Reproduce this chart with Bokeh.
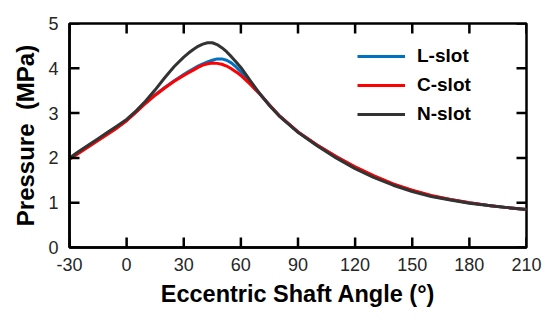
from bokeh.plotting import figure
from bokeh.models import Range1d, FixedTicker, Legend, LegendItem, PrintfTickFormatter
from bokeh.embed import file_html
from bokeh.resources import INLINE

angle = [-30, -25, -20, -15, -10, -5, 0, 5, 10, 15, 20, 25,
         30, 32.5, 35, 37.5, 40, 42.5, 45, 47.5, 50, 52.5, 55, 57.5, 60,
         65, 70, 75, 80, 90, 100, 110, 120, 130, 140, 150, 160, 170, 180, 190, 200, 210]
l_slot = [1.98, 2.12, 2.26, 2.40, 2.54, 2.68, 2.84, 3.03, 3.23, 3.41, 3.57, 3.72,
          3.86, 3.93, 3.99, 4.05, 4.10, 4.14, 4.18, 4.21, 4.21, 4.18, 4.12, 4.03, 3.92,
          3.67, 3.43, 3.18, 2.95, 2.58, 2.29, 2.03, 1.79, 1.59, 1.41, 1.27, 1.15, 1.07, 1.00, 0.94, 0.89, 0.85]
c_slot = [1.97, 2.11, 2.25, 2.39, 2.53, 2.67, 2.83, 3.02, 3.22, 3.40, 3.56, 3.71,
          3.84, 3.90, 3.96, 4.02, 4.07, 4.10, 4.12, 4.11, 4.09, 4.05, 3.99, 3.92, 3.84,
          3.64, 3.42, 3.18, 2.95, 2.58, 2.29, 2.03, 1.80, 1.60, 1.42, 1.28, 1.16, 1.07, 1.00, 0.94, 0.89, 0.85]
n_slot = [2.00, 2.15, 2.29, 2.43, 2.57, 2.71, 2.86, 3.05, 3.27, 3.52, 3.79, 4.04,
          4.25, 4.34, 4.42, 4.49, 4.54, 4.57, 4.57, 4.53, 4.46, 4.37, 4.26, 4.14, 4.02,
          3.72, 3.43, 3.17, 2.94, 2.57, 2.27, 2.00, 1.76, 1.56, 1.39, 1.25, 1.14, 1.06, 0.99, 0.94, 0.89, 0.85]
x_ticks = [-30, 0, 30, 60, 90, 120, 150, 180, 210]
y_ticks = [0, 1, 2, 3, 4, 5]
x_min, x_max = -30, 210
y_min, y_max = 0, 5

FONT = "Liberation Sans"

p = figure(width=542, height=313, output_backend="svg", toolbar_location=None,
           x_range=Range1d(x_min, x_max), y_range=Range1d(y_min, y_max),
           min_border_left=69, min_border_right=16, min_border_top=23, min_border_bottom=66)
p.xgrid.visible = False
p.ygrid.visible = False
p.outline_line_color = "black"
p.outline_line_width = 2.5

r_l = p.line(angle, l_slot, line_color="#0070C0", line_width=3, line_join="round")
r_c = p.line(angle, c_slot, line_color="#FF0000", line_width=3, line_join="round")
r_n = p.line(angle, n_slot, line_color="#333333", line_width=3, line_join="round")

# inward tick marks on all four sides
tick_kw = dict(length=10, length_units="screen", line_color="black", line_width=2.5)
p.ray(x=x_ticks, y=[y_min] * len(x_ticks), angle=90, angle_units="deg", **tick_kw)
p.ray(x=x_ticks, y=[y_max] * len(x_ticks), angle=-90, angle_units="deg", **tick_kw)
p.ray(x=[x_min] * len(y_ticks), y=y_ticks, angle=0, angle_units="deg", **tick_kw)
p.ray(x=[x_max] * len(y_ticks), y=y_ticks, angle=180, angle_units="deg", **tick_kw)

def style(ax):
    ax.axis_line_color = "black"
    ax.axis_line_width = 2.5
    ax.major_tick_in = 0
    ax.major_tick_out = 0
    ax.major_tick_line_color = None
    ax.minor_tick_line_color = None
    ax.major_label_text_font = FONT
    ax.major_label_text_font_size = "18px"
    ax.major_label_text_color = "#262626"
    ax.formatter = PrintfTickFormatter(format="%d")

xa = p.xaxis[0]
xa.ticker = FixedTicker(ticks=x_ticks)
style(xa)
xa.major_label_standoff = 10
xa.axis_label = "Eccentric Shaft Angle (°)"
xa.axis_label_text_font = FONT
xa.axis_label_text_font_style = "bold"
xa.axis_label_text_font_size = "23.5px"
xa.axis_label_text_color = "black"
xa.axis_label_standoff = 7

ya = p.yaxis[0]
ya.ticker = FixedTicker(ticks=y_ticks)
style(ya)
ya.major_label_standoff = 11
ya.axis_label = "Pressure\u00a0\u00a0(MPa)"
ya.axis_label_text_font = FONT
ya.axis_label_text_font_style = "bold"
ya.axis_label_text_font_size = "24px"
ya.axis_label_text_color = "black"
ya.axis_label_standoff = 6

legend = Legend(items=[LegendItem(label="L-slot", renderers=[r_l]),
                       LegendItem(label="C-slot", renderers=[r_c]),
                       LegendItem(label="N-slot", renderers=[r_n])],
                location=(288, 122))
legend.border_line_color = None
legend.background_fill_alpha = 0
legend.padding = 0
legend.margin = 0
legend.spacing = 7
legend.glyph_width = 48
legend.glyph_height = 20
legend.label_height = 20
legend.label_standoff = 12
legend.label_text_font = FONT
legend.label_text_font_style = "bold"
legend.label_text_font_size = "19px"
legend.label_text_color = "black"
p.add_layout(legend, "center")

open("out.html", "w").write(file_html(p, INLINE))
